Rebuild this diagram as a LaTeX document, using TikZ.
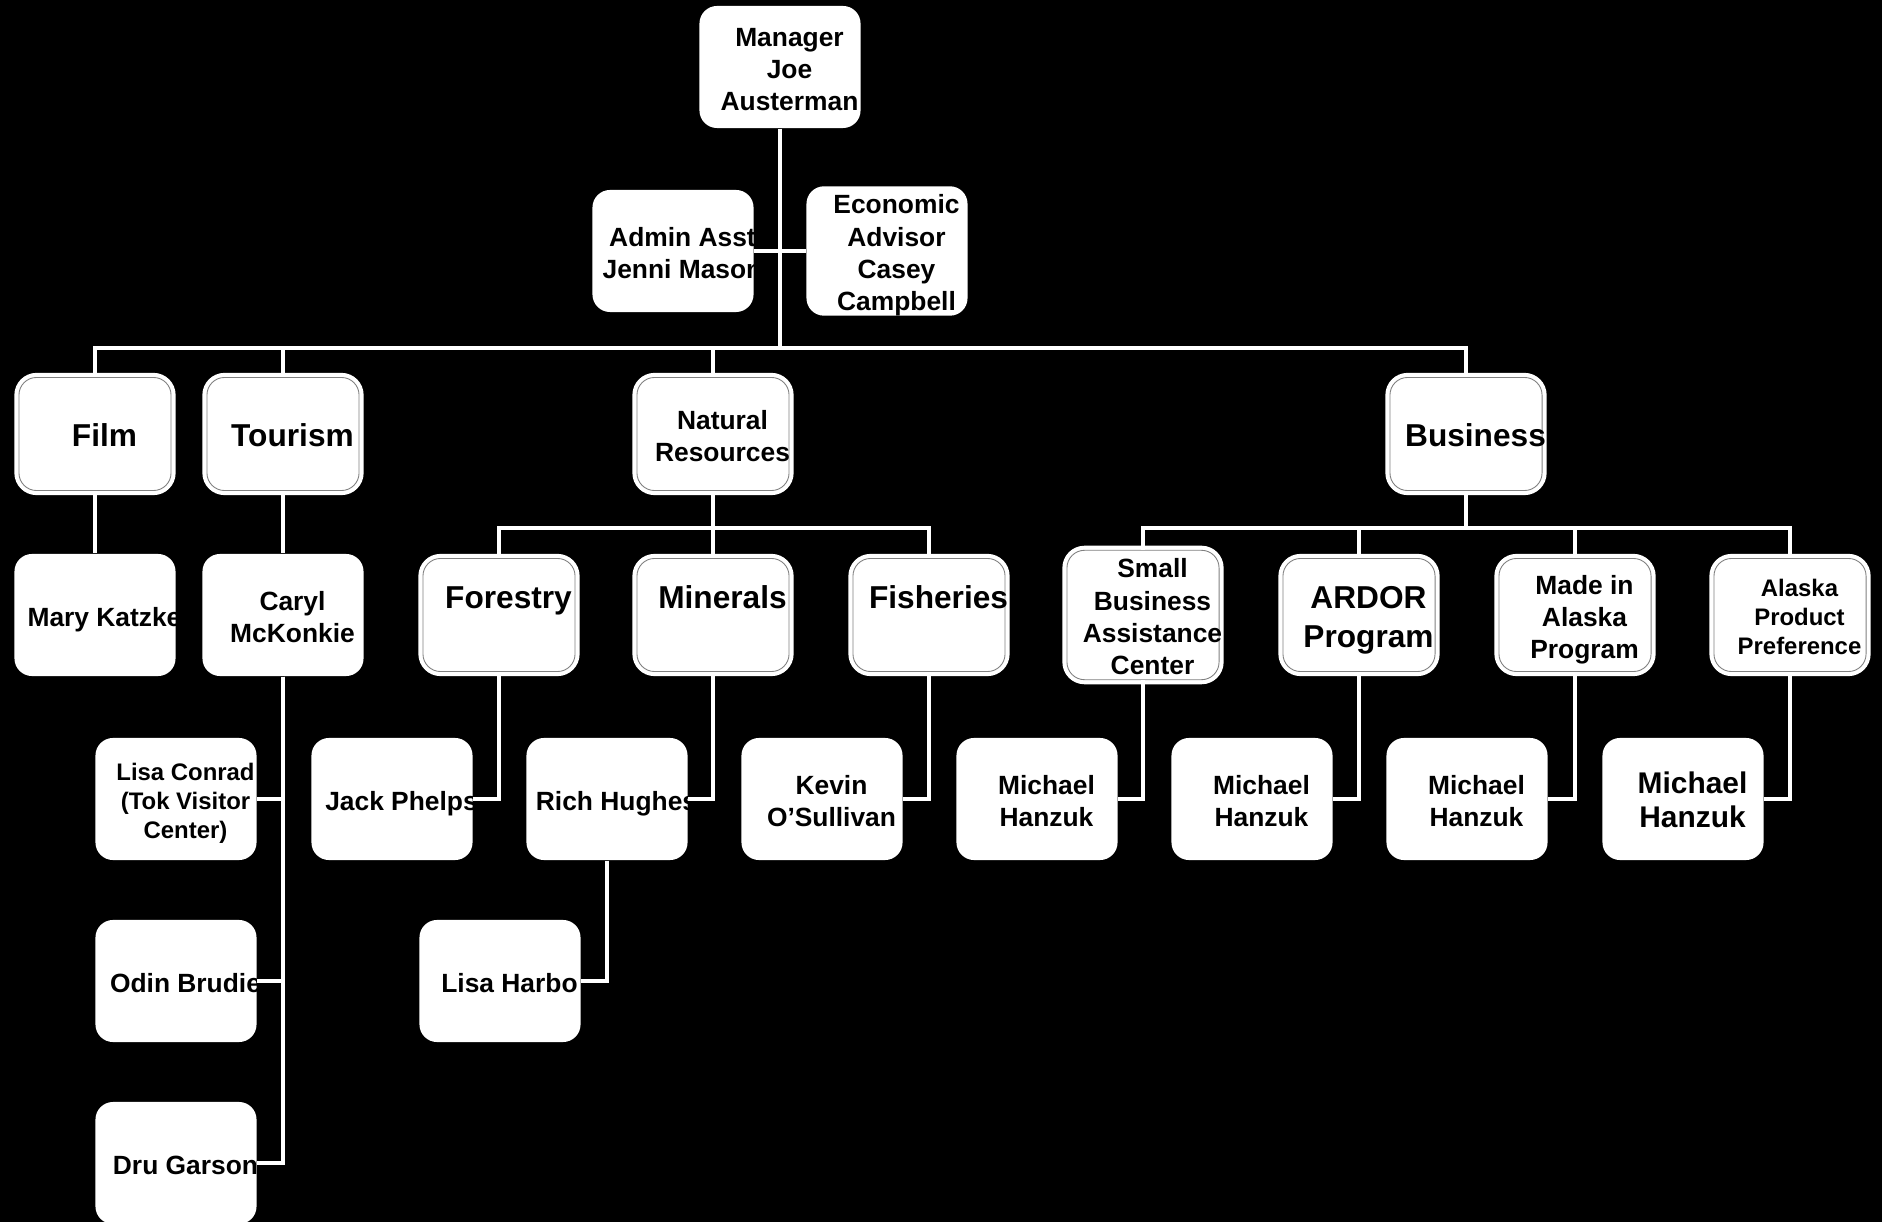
\documentclass[tikz,border=0pt]{standalone}
\usepackage{fontspec}
\setmainfont{Liberation Sans}
\newcommand{\boxtxt}[1]{\makebox[0pt]{\hspace*{5.4pt}\raisebox{-1.4pt}[\height][\depth]{\begin{tabular}{@{}c@{}}#1\end{tabular}}}}
\tikzset{person/.style={rectangle,rounded corners=5pt,fill=white,inner sep=0pt,minimum width=1.61cm,minimum height=1.22cm,font=\bfseries\fontsize{7.5}{9.2}\selectfont}}
\tikzset{unit/.style={person,minimum width=1.52cm,minimum height=1.13cm,draw=black!50,line width=0.25pt,preaction={draw=white,line width=2.6pt}}}
\tikzset{bigtxt/.style={font=\bfseries\fontsize{9}{11}\selectfont}}
\tikzset{smalltxt/.style={font=\bfseries\fontsize{6.8}{8.2}\selectfont}}
\tikzset{hugetxt/.style={font=\bfseries\fontsize{8.5}{9.6}\selectfont}}
\tikzset{link/.style={draw=white,line width=1pt}}

\begin{document}
\begin{tikzpicture}[x=0.01cm,y=-0.01cm]
        % black page
        \fill[black] (0,0) rectangle (1882,1222);
        \useasboundingbox (0,0) rectangle (1882,1222);
        % manager and staff
        \node[person] (mgr) at (780,67) {\boxtxt{Manager\\Joe\\Austerman}};
        \node[person] (admin) at (673,251) {\boxtxt{Admin Asst\\Jenni Mason}};
        \node[person] (econ) at (887,251) {\boxtxt{Economic\\Advisor\\Casey\\Campbell}};
        % units
        \node[unit,bigtxt] (film) at (95,434) {\boxtxt{Film}};
        \node[unit,bigtxt] (tourism) at (283,434) {\boxtxt{Tourism}};
        \node[unit] (natres) at (713,434) {\boxtxt{Natural\\Resources}};
        \node[unit,bigtxt] (business) at (1466,434) {\boxtxt{Business}};
        \node[person] (mary) at (95,615) {\boxtxt{Mary Katzke}};
        \node[person] (caryl) at (283,615) {\boxtxt{Caryl\\McKonkie}};
        \node[unit,bigtxt] (forestry) at (499,615) {\boxtxt{Forestry\\\mbox{}}};
        \node[unit,bigtxt] (minerals) at (713,615) {\boxtxt{Minerals\\\mbox{}}};
        \node[unit,bigtxt] (fisheries) at (929,615) {\boxtxt{Fisheries\\\mbox{}}};
        \node[unit] (sbac) at (1143,615) {\boxtxt{Small\\Business\\Assistance\\Center}};
        \node[unit,bigtxt] (ardor) at (1359,615) {\boxtxt{ARDOR\\Program}};
        \node[unit] (mia) at (1575,615) {\boxtxt{Made in\\Alaska\\Program}};
        \node[unit,smalltxt] (app) at (1790,615) {\boxtxt{Alaska\\Product\\Preference}};
        % people
        \node[person,smalltxt] (lisac) at (176,799) {\boxtxt{Lisa Conrad\\(Tok Visitor\\Center)}};
        \node[person] (jack) at (392,799) {\boxtxt{Jack Phelps}};
        \node[person] (rich) at (607,799) {\boxtxt{Rich Hughes}};
        \node[person] (kevin) at (822,799) {\boxtxt{Kevin\\O’Sullivan}};
        \node[person] (mh1) at (1037,799) {\boxtxt{Michael\\Hanzuk}};
        \node[person] (mh2) at (1252,799) {\boxtxt{Michael\\Hanzuk}};
        \node[person] (mh3) at (1467,799) {\boxtxt{Michael\\Hanzuk}};
        \node[person,hugetxt] (mh4) at (1683,799) {\boxtxt{Michael\\Hanzuk}};
        \node[person] (odin) at (176,981) {\boxtxt{Odin Brudie}};
        \node[person] (harbo) at (500,981) {\boxtxt{Lisa Harbo}};
        \node[person] (dru) at (176,1163) {\boxtxt{Dru Garson}};
        % the lines
        \coordinate (topbus) at (780,348);
        \coordinate (nrbus) at (713,528);
        \coordinate (bizbus) at (1466,528);
        \draw[link] (mgr.south) -- (topbus);
        \draw[link] (admin.east) -- (econ.west);
        \draw[link] (film.north) |- (topbus) -| (business.north);
        \draw[link] (tourism.north) -- (tourism.north |- topbus);
        \draw[link] (natres.north) -- (natres.north |- topbus);
        \draw[link] (film.south) -- (mary.north);
        \draw[link] (tourism.south) -- (caryl.north);
        \draw[link] (natres.south) -- (nrbus);
        \draw[link] (forestry.north) |- (nrbus) -| (fisheries.north);
        \draw[link] (minerals.north) -- (nrbus);
        \draw[link] (business.south) -- (bizbus);
        \draw[link] (sbac.north) |- (bizbus) -| (app.north);
        \draw[link] (ardor.north) -- (ardor.north |- bizbus);
        \draw[link] (mia.north) -- (mia.north |- bizbus);
        % staff under the units
        \draw[link] (caryl.south) |- (lisac.east);
        \draw[link] (caryl.south) |- (odin.east);
        \draw[link] (caryl.south) |- (dru.east);
        \draw[link] (forestry.south) |- (jack.east);
        \draw[link] (minerals.south) |- (rich.east);
        \draw[link] (rich.south) |- (harbo.east);
        \draw[link] (fisheries.south) |- (kevin.east);
        \foreach \u/\p in {sbac/mh1,ardor/mh2,mia/mh3,app/mh4}
                \draw[link] (\u.south) |- (\p.east);
\end{tikzpicture}
\end{document}
